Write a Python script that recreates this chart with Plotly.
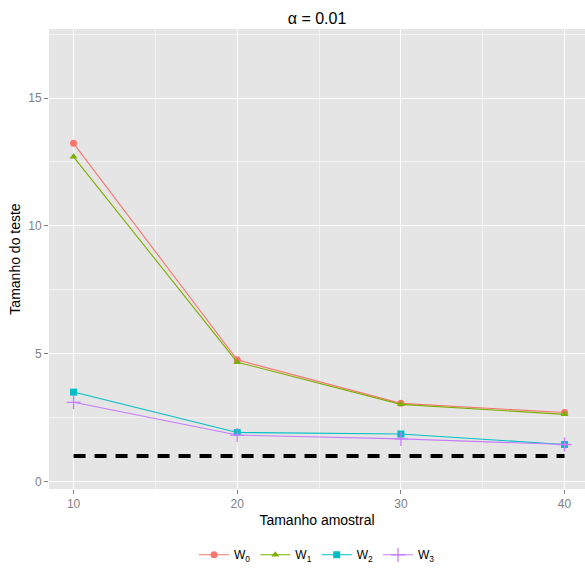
import plotly.graph_objects as go

n = [10, 20, 30, 40]
w0 = [13.23, 4.76, 3.06, 2.70]
w1 = [12.70, 4.67, 3.02, 2.63]
w2 = [3.50, 1.92, 1.86, 1.45]
w3 = [3.10, 1.82, 1.67, 1.45]
nominal = [1.0, 1.0]
nominal_x = [10, 40]

names = ["W<sub>0</sub>", "W<sub>1</sub>", "W<sub>2</sub>", "W<sub>3</sub>"]
colors = ["#F8766D", "#7CAE00", "#00BFC4", "#C77CFF"]
symbols = ["circle", "triangle-up", "square", "cross-thin"]
series = [w0, w1, w2, w3]

fig = go.Figure()
fig.add_trace(go.Scatter(x=nominal_x, y=nominal, mode="lines", showlegend=False,
                         line=dict(color="black", width=4, dash="12px,9px"), hoverinfo="skip"))
for name, c, s, y in zip(names, colors, symbols, series):
    fig.add_trace(go.Scatter(x=n, y=y, mode="lines+markers", name=name,
                             line=dict(color=c, width=1.1),
                             marker=dict(symbol=s, size=7 if s != "cross-thin" else 10, color=c,
                                         line=dict(color=c, width=1.3 if s == "cross-thin" else 0))))

fig.update_layout(
    width=585, height=572,
    margin=dict(l=48.5, r=0, t=29, b=83),
    paper_bgcolor="white", plot_bgcolor="#E5E5E5",
    font=dict(family="Liberation Sans, Arial, sans-serif", color="black"),
    title=dict(text="α = 0.01", x=0.5, xref="paper", xanchor="center", y=1 - 18/572, yanchor="middle",
               font=dict(size=16, color="black")),
    legend=dict(orientation="h", x=0.5, xanchor="center", y=-0.143, yanchor="middle",
                font=dict(size=12), itemwidth=30),
    xaxis=dict(range=[8.5, 41.25], tickvals=[10, 20, 30, 40], showgrid=True, gridcolor="white", gridwidth=1.1,
               minor=dict(tickvals=[15, 25, 35], showgrid=True, gridcolor="#F2F2F2", gridwidth=0.6),
               zeroline=False, ticks="outside", ticklen=4, tickcolor="#7F7F7F", tickwidth=1,
               tickfont=dict(size=12, color="#7F7F7F"),
               title=dict(text="Tamanho amostral", font=dict(size=14), standoff=4)),
    yaxis=dict(range=[-0.29, 17.7], tickvals=[0, 5, 10, 15], showgrid=True, gridcolor="white", gridwidth=1.1,
               minor=dict(tickvals=[2.5, 7.5, 12.5, 17.5], showgrid=True, gridcolor="#F2F2F2", gridwidth=0.6),
               zeroline=False, ticks="outside", ticklen=4, tickcolor="#7F7F7F", tickwidth=1,
               tickfont=dict(size=12, color="#7F7F7F"),
               title=dict(text="Tamanho do teste", font=dict(size=14), standoff=4)),
)

fig.write_html("out.html")
